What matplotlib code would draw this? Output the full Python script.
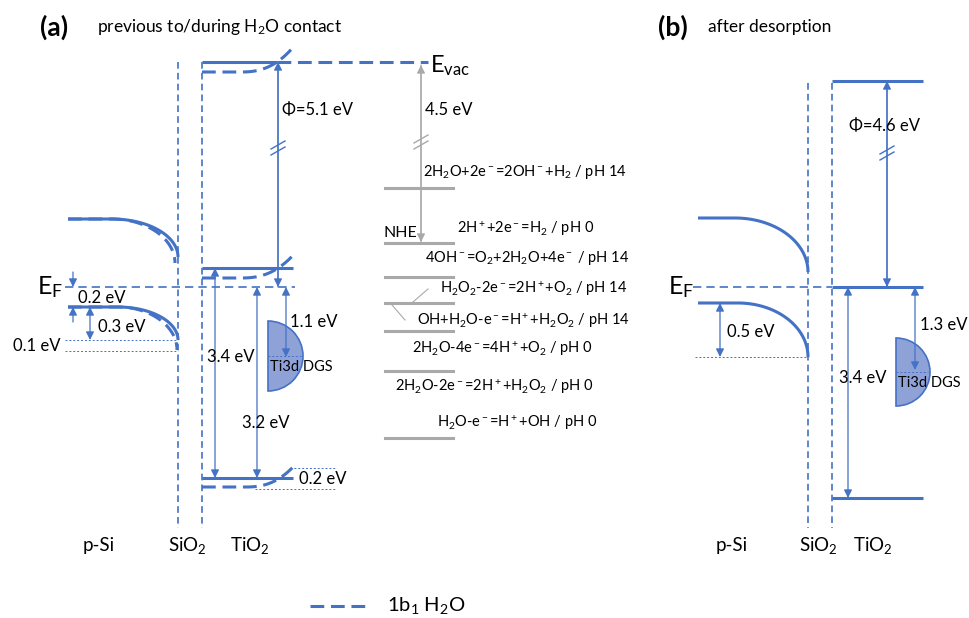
import numpy as np
import matplotlib.pyplot as plt
from matplotlib.patches import Wedge

plt.rcParams['font.family'] = ['Lato', 'DejaVu Sans']
plt.rcParams['mathtext.fontset'] = 'custom'
plt.rcParams['mathtext.rm'] = 'Lato'
plt.rcParams['mathtext.it'] = 'Lato:italic'
plt.rcParams['mathtext.bf'] = 'Lato:bold'

BLUE = '#4472c4'
GREY = '#a9a9a9'
DGS_FILL = '#8fa2d8'

# gap / offset labels (eV)
a_gaps = {'phi': 5.1, 'eg': 3.4, 'vb': 3.2, 'dgs': 1.1, 'shift': 0.2,
          'si_ef': 0.2, 'si_bend': 0.3, 'si_extra': 0.1}
b_gaps = {'phi': 4.6, 'eg': 3.4, 'dgs': 1.3, 'si_bend': 0.5}
nhe_vac = 4.5

# redox couples (schematic level positions, top to bottom)
redox_levels = [188, 243, 277, 303, 331, 371, 438]
redox_labels = [r'2H$_2$O+2e$^-$=2OH$^-$+H$_2$ / pH 14',
                r'2H$^+$+2e$^-$=H$_2$ / pH 0',
                r'4OH$^-$=O$_2$+2H$_2$O+4e$^-$ / pH 14',
                r'H$_2$O$_2$-2e$^-$=2H$^+$+O$_2$ / pH 14',
                r'OH+H$_2$O-e$^-$=H$^+$+H$_2$O$_2$ / pH 14',
                r'2H$_2$O-4e$^-$=4H$^+$+O$_2$ / pH 0',
                r'2H$_2$O-2e$^-$=2H$^+$+H$_2$O$_2$ / pH 0',
                r'H$_2$O-e$^-$=H$^+$+OH / pH 0']
redox_label_x = [423, 457, 425, 440, 417, 412, 395, 437]
redox_label_y = [172, 229, 258, 289, 321, 349, 387, 423]

layers = ['p-Si', r'SiO$_2$', r'TiO$_2$']

fig = plt.figure(figsize=(9.7, 6.18), dpi=100)
ax = fig.add_axes([0, 0, 1, 1])
ax.set_xlim(0, 970)
ax.set_ylim(618, 0)
ax.axis('off')

SOLID = dict(color=BLUE, lw=2.2, solid_capstyle='butt')
WATER = dict(color=BLUE, lw=2.2, dashes=(4.5, 2.2))
IFACE = dict(color=BLUE, lw=1.2, dashes=(4, 2.5))
DOT = dict(color=BLUE, lw=0.7, dashes=(2, 2))


def bend(x0, xb, x1, y0, drop, n=60):
    # flat band, then quarter-ellipse bending down to a vertical end
    t = np.linspace(0, np.pi / 2, n)
    return np.r_[x0, xb + (x1 - xb) * np.sin(t)], np.r_[y0, y0 + drop * (1 - np.cos(t))]


def lift(x0, xb, x1, y0, rise, p=2.5, n=40):
    x = np.linspace(xb, x1, n)
    return np.r_[x0, x], np.r_[y0, y0 - rise * ((x - xb) / (x1 - xb)) ** p]


def arrow(x, y_from, y_to, both=False, color=BLUE):
    ax.annotate('', xy=(x, y_to), xytext=(x, y_from),
                arrowprops=dict(arrowstyle='<|-|>' if both else '-|>', color=color,
                                lw=0.9, mutation_scale=12, shrinkA=0, shrinkB=0))


def brk(x, y, color):
    for dy in (-3, 3):
        ax.plot([x - 7, x + 7], [y + dy + 4, y + dy - 4], color=color, lw=1)


def dgs(x, y, r, text):
    ax.add_patch(Wedge((x, y), r, -90, 90, facecolor=DGS_FILL, edgecolor=BLUE, lw=1.2))
    ax.plot([x, x + r - 2], [y, y], **DOT)
    ax.text(x + 2, y + 11, text, fontsize=10.5, va='center', ha='left')


def ev(x, y, val, **kw):
    ax.text(x, y, f'{val} eV', fontsize=12, va='center', **kw)


# ---------------- panel (a) ----------------
ax.text(40, 27, '(a)', fontsize=19, fontweight='bold', va='center')
ax.text(97, 27, r'previous to/during H$_2$O contact', fontsize=12.5, va='center')

# interfaces
ax.plot([178, 178], [62, 528], **IFACE)
ax.plot([202, 202], [62, 528], **IFACE)

# p-Si bands
x, y = bend(68, 112, 178, 219, 38)
ax.plot(x, y, **SOLID)
x, y = bend(68, 112, 175, 219, 44)
ax.plot(x, y, **WATER)
x, y = bend(68, 118, 178, 307, 33)
ax.plot(x, y, **SOLID)
x, y = bend(68, 118, 177, 307, 43)
ax.plot(x, y, **WATER)
ax.plot([65, 178], [340, 340], **DOT)
ax.plot([65, 178], [351, 351], **DOT)
ev(13, 346, a_gaps['si_extra'])
arrow(73, 272, 287)
arrow(73, 322, 307)
ev(78, 298, a_gaps['si_ef'])
arrow(90, 307, 340, both=True)
ev(98, 327, a_gaps['si_bend'])

# Fermi level
ax.plot([65, 295], [287, 287], color=BLUE, lw=1.2, dashes=(5, 3))
ax.text(37, 287, r'E$_\mathrm{F}$', fontsize=18, va='center')

# TiO2 bands
ax.plot([202, 277], [62, 62], **SOLID)
ax.plot([277, 428], [62, 62], **WATER)
x, y = lift(202, 240, 295, 72, 27)
ax.plot(x, y, **WATER)
ax.plot([202, 293], [268, 268], **SOLID)
x, y = lift(202, 240, 296, 278, 26)
ax.plot(x, y, **WATER)
ax.plot([202, 293], [478, 478], **SOLID)
x, y = lift(202, 245, 293, 487, 20)
ax.plot(x, y, **WATER)
ax.plot([290, 335], [468, 468], **DOT)
ax.plot([255, 335], [489, 489], **DOT)
ev(299, 479, a_gaps['shift'])
ax.text(430, 66, r'E$_\mathrm{vac}$', fontsize=17, va='center')

arrow(278, 287, 62)
arrow(278, 62, 287)
brk(278, 148, BLUE)
ax.text(282, 110, f'\u03a6={a_gaps["phi"]} eV', fontsize=12, va='center')
arrow(215, 268, 478, both=True)
ev(207, 357, a_gaps['eg'])
arrow(257, 287, 478, both=True)
ev(242, 423, a_gaps['vb'])
dgs(268, 356, 35, 'Ti3d DGS')
arrow(286, 287, 357, both=True)
ev(290, 322, a_gaps['dgs'])

# redox levels vs. vacuum
arrow(421, 242, 65, color=GREY)
arrow(421, 65, 242, color=GREY)
brk(421, 142, GREY)
ax.text(425, 110, f'{nhe_vac} eV', fontsize=12, va='center')
ax.text(384, 233, 'NHE', fontsize=11.5, va='center')
for lvl in redox_levels:
    ax.plot([385, 453], [lvl, lvl], color=GREY, lw=2.2)
for xl, yl, lab in zip(redox_label_x, redox_label_y, redox_labels):
    ax.text(xl, yl, lab, fontsize=10.5, va='center')
ax.plot([428, 413], [289, 302], color=GREY, lw=0.8)
ax.plot([392, 405], [305, 320], color=GREY, lw=0.8)

for xl, lab in zip([83, 168, 230], layers):
    ax.text(xl, 545, lab, fontsize=13.5, va='center')

# ---------------- panel (b) ----------------
ax.text(658, 27, '(b)', fontsize=19, fontweight='bold', va='center')
ax.text(708, 27, 'after desorption', fontsize=12.5, va='center')

ax.plot([808, 808], [83, 528], **IFACE)
ax.plot([832, 832], [83, 528], **IFACE)

x, y = bend(698, 735, 808, 218, 54)
ax.plot(x, y, **SOLID)
x, y = bend(698, 738, 808, 303, 54)
ax.plot(x, y, **SOLID)
ax.plot([695, 808], [357, 357], **DOT)
arrow(720, 303, 357, both=True)
ev(727, 332, b_gaps['si_bend'])

ax.plot([693, 832], [287, 287], color=BLUE, lw=1.2, dashes=(5, 3))
ax.text(668, 287, r'E$_\mathrm{F}$', fontsize=18, va='center')

ax.plot([832, 923], [81, 81], **SOLID)
ax.plot([832, 923], [287, 287], **SOLID)
ax.plot([832, 923], [498, 498], **SOLID)
arrow(887, 287, 81)
arrow(887, 81, 287)
brk(887, 153, BLUE)
ax.text(849, 126, f'\u03a6={b_gaps["phi"]} eV', fontsize=12, va='center')
arrow(848, 287, 498, both=True)
ev(839, 378, b_gaps['eg'])
dgs(896, 372, 34, 'Ti3d DGS')
arrow(915, 287, 370, both=True)
ev(920, 325, b_gaps['dgs'])

for xl, lab in zip([716, 799, 853], layers):
    ax.text(xl, 545, lab, fontsize=13.5, va='center')

# legend
ax.plot([310, 370], [606, 606], **WATER)
ax.text(387, 606, r'1b$_1$ H$_2$O', fontsize=14.5, va='center')

fig.savefig('out.png', dpi=100)
